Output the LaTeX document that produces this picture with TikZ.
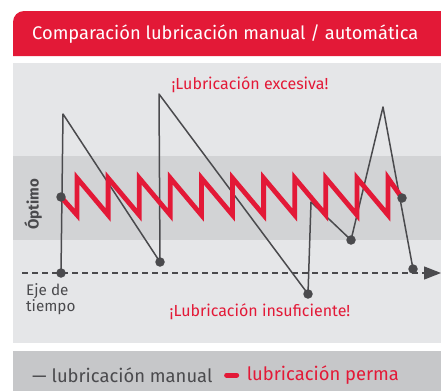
\documentclass[tikz,border=0pt]{standalone}
\usepackage{fontspec}
\setmainfont{Fira Sans}
\usetikzlibrary{arrows.meta, positioning}
\definecolor{lubred}{RGB}{227,25,55}
\definecolor{lubgray}{RGB}{74,74,77}
\definecolor{panelgray}{RGB}{229,230,232}
\definecolor{bandgray}{RGB}{210,211,213}
\definecolor{legendgray}{RGB}{198,199,201}

\tikzset{
  dot/.style={circle,fill=lubgray,inner sep=0pt,minimum size=9.5pt},
  manualline/.style={lubgray,line width=1.5pt,line join=round},
  permline/.style={lubred,line width=4.8pt,line join=miter},
  alertlabel/.style={lubred,font=\fontsize{16}{18}\selectfont},
  graytext/.style={lubgray,font=\fontsize{15.3}{14.5}\selectfont},
  legendtext/.style={font=\fontsize{18.4}{20}\selectfont,inner sep=0pt},
}

\begin{document}
\begin{tikzpicture}[x=1pt,y=-1pt]
\useasboundingbox (0,0) rectangle (441,391);

% header
\fill[lubred] (13,56) -- (13,22) arc[start angle=180,end angle=270,radius=11] -- (441,11) -- (441,56) -- cycle;
\node[anchor=west,white,font=\fontsize{18.3}{20}\selectfont,inner sep=0pt] (title) at (32,34) {Comparación lubricación manual / automática};

% panel and optimum band
\fill[panelgray] (13,63) rectangle (441,343);
\fill[bandgray] (13,156) rectangle (441,240);

% labels
\node[alertlabel] (excess) at (250,85) {¡Lubricación excesiva!};
\node[alertlabel] (lack) at (260,312) {¡Lubricación insuficiente!};
\node[graytext,font=\fontsize{15}{16}\bfseries,rotate=90] (optimo) at (33,204) {Óptimo};
\node[graytext,anchor=west,align=left,inner sep=0pt] (axislabel) at (26,299) {Eje de\\tiempo};

% time axis
\coordinate (ax0) at (22,273);
\coordinate (ax1) at (441,273);
\draw[lubgray,line width=1.3pt,dash pattern=on 6pt off 4pt,-{Triangle[length=17pt,width=13pt]}] (ax0) -- (ax1);

% manual lubrication
\coordinate (t0) at (61,273);
\coordinate (p1) at (63,114);
\coordinate (m1) at (160,262);
\coordinate (p2) at (159,94);
\coordinate (m2) at (308,294);
\coordinate (p3) at (311,202);
\coordinate (m3) at (351,240);
\coordinate (p4) at (383,107);
\coordinate (m4) at (413,269);
\draw[manualline] (t0) -- (p1) -- (m1) -- (p2) -- (m2) -- (p3) -- (m3) -- (p4) -- (m4);

% permanent lubrication
\coordinate (a0) at (61,197);
\coordinate (a1) at (402,198);
\draw[permline] (a0) -- (77,215)
  \foreach \i in {0,...,9} { -- ({77+31.1*\i},178) -- ({77+31.1*(\i+1)},215) }
  -- (388,178) -- (a1);

% dots
\foreach \p in {t0,m1,m2,m3,m4,a0,a1}
  \node[dot] at (\p) {};

% legend
\fill[legendgray] (13,351) rectangle (441,391);
\node[legendtext,lubgray,anchor=west] (legman) at (32,375) {— lubricación manual};
\node[legendtext,lubred,right=34pt of legman] (legperm) {lubricación perma};
\draw[lubred,line width=5pt,line cap=round] ([xshift=14pt]legman.east) -- ([xshift=-10pt]legperm.west);
\end{tikzpicture}
\end{document}
